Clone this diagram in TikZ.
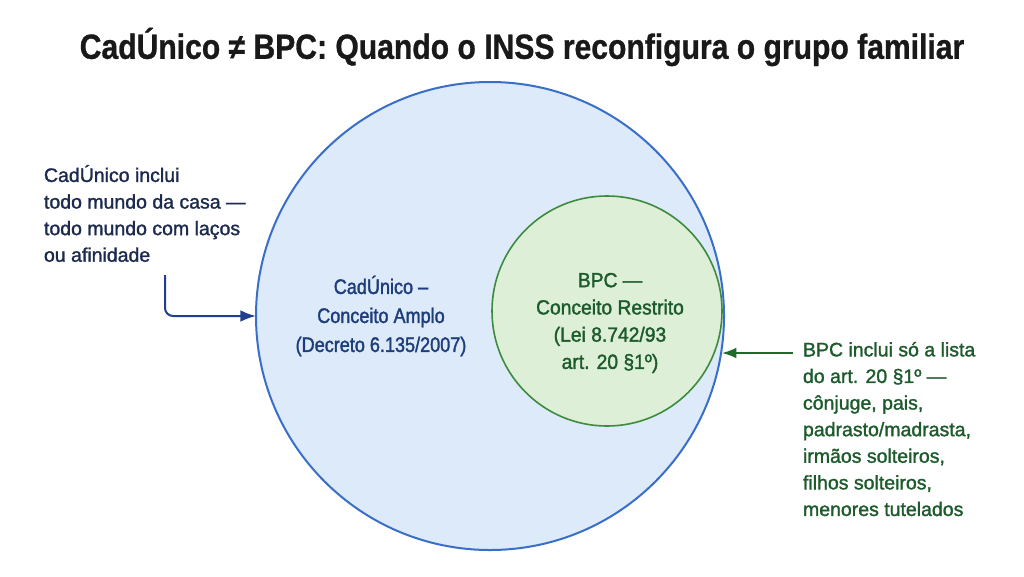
\documentclass[tikz,border=0pt]{standalone}
\usepackage{fontspec}
\setmainfont{Liberation Sans}
\newfontfamily\titlefont[FakeStretch=0.86, BoldFeatures={FakeBold=0.8}]{Liberation Sans}
\newfontfamily\notefont[FakeStretch=1.0, FakeBold=1.4]{Liberation Sans}
\newfontfamily\cadfont[FakeStretch=0.86, FakeBold=1.6]{Liberation Sans}
\newfontfamily\bpcfont[FakeStretch=0.94, FakeBold=1.6]{Liberation Sans}
\usepackage{xcolor}
\usetikzlibrary{arrows.meta}
\usetikzlibrary{positioning}
\definecolor{bigfill}{HTML}{DCEAFA}
\definecolor{bigline}{HTML}{3A6FC8}
\definecolor{smallfill}{HTML}{DDEFD6}
\definecolor{smallline}{HTML}{3E8A3E}
\definecolor{navytext}{HTML}{1C2A4E}
\definecolor{bluetext}{HTML}{1E3D7A}
\definecolor{greentext}{HTML}{1D5A2C}
\definecolor{bluearrow}{HTML}{1F3F8F}
\definecolor{greenarrow}{HTML}{1F6A2C}
\tikzset{
% Define standard arrow tip
>={Latex[scale=1.3]},
note/.style={align=left, anchor=north west,
  font=\notefont\fontsize{19.5}{26.6}\selectfont},
label/.style={align=center}
}

\begin{document}
\begin{tikzpicture}[x=1pt, y=-1pt, inner sep=0, outer sep=0]
  \useasboundingbox[fill=white] (0,0) rectangle (1024,576);

  \node[font=\titlefont\bfseries\fontsize{35}{38}\selectfont,
    text=black!90] (title) at (522,47) {CadÚnico ≠ BPC: Quando o INSS reconfigura o grupo familiar};

  \node[circle, draw=bigline, line width=2pt,
    fill=bigfill,
    minimum size=468pt] (cad) at (490,316) {};
  \node[circle, draw=smallline, line width=1.6pt,
    fill=smallfill,
    minimum size=230pt] (bpc) at (607,311) {};

  \node[label, text=bluetext,
    font=\cadfont\fontsize{21}{29}\selectfont] (cad-text) at (381,316) {CadÚnico –\\Conceito Amplo\\(Decreto 6.135/2007)};
  \node[label, text=greentext,
    font=\bpcfont\fontsize{20.5}{27.2}\selectfont] (bpc-text) at (610,323) {BPC —\\Conceito Restrito\\(Lei 8.742/93\\art. 20 §1º)};

  \node[note, text=navytext] (cad-note) at (44,165) {CadÚnico inclui\\todo mundo da casa —\\todo mundo com laços\\ou afinidade};
  \node[note, text=greentext] (bpc-note) at (803,342) {BPC inclui só a lista\\do art. 20 §1º —\\cônjuge, pais,\\padrasto/madrasta,\\irmãos solteiros,\\filhos solteiros,\\menores tutelados};

  % arrow into the broad circle
  \coordinate (cad-start) at (165,275);
  \draw[->, draw=bluearrow, line width=2pt, rounded corners=8pt]
    (cad-start) |- (cad.west);

  % arrow into the restricted circle
  \coordinate (bpc-start) at (793,353);
  \draw[->, draw=greenarrow, line width=1.8pt]
    (bpc-start) -- (bpc-start -| bpc.east);
\end{tikzpicture}
\end{document}
